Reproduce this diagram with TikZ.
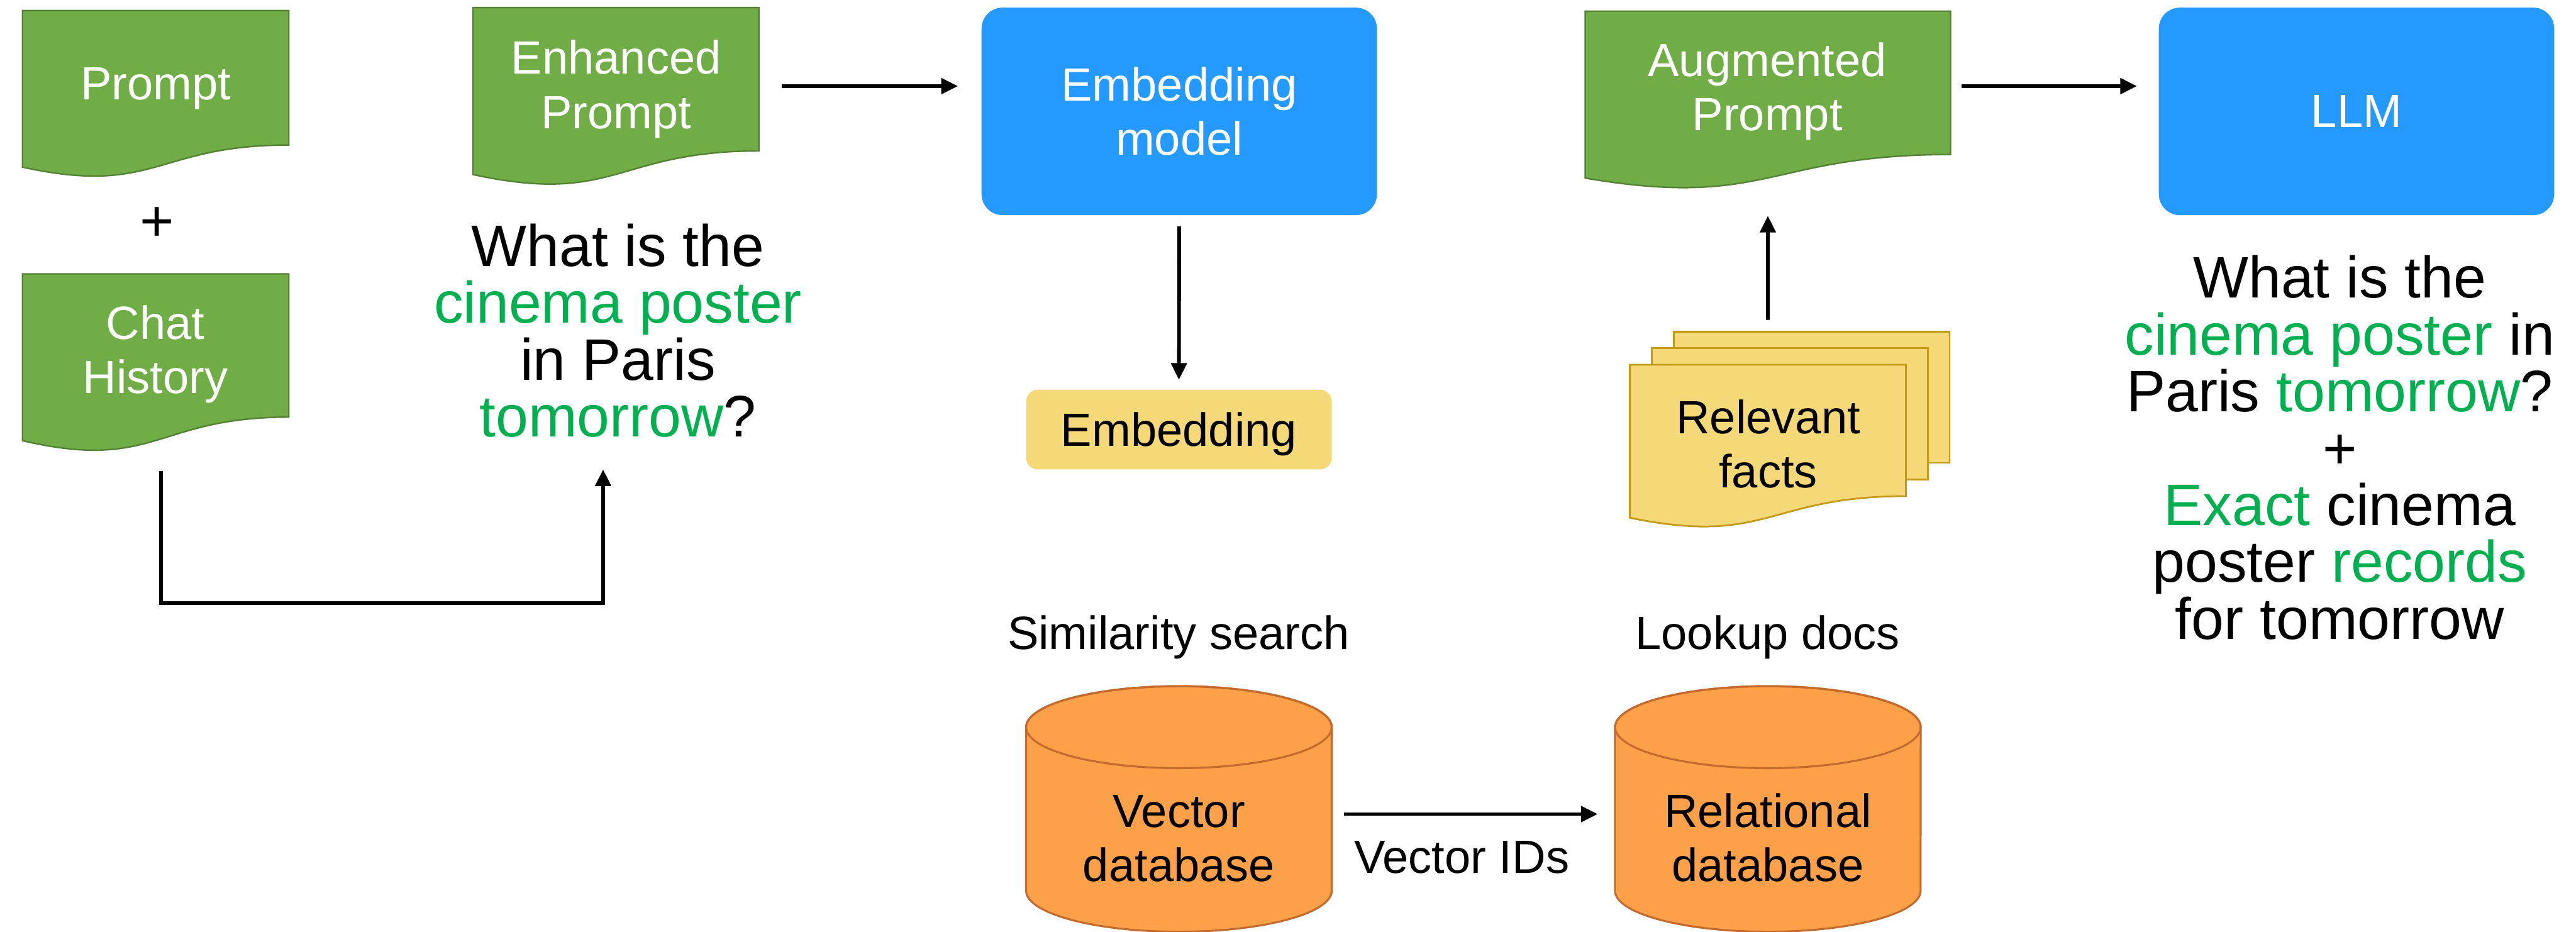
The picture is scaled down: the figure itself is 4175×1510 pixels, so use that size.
\documentclass[tikz,border=0pt]{standalone}
\usepackage{fontspec}
\setmainfont{Liberation Sans}
\usetikzlibrary{arrows.meta,calc}

\definecolor{docgreen}{RGB}{112,173,71}
\definecolor{docedge}{RGB}{84,130,53}
\definecolor{modelblue}{RGB}{36,153,255}
\definecolor{noteyellow}{RGB}{245,217,120}
\definecolor{noteedge}{RGB}{196,154,20}
\definecolor{dborange}{RGB}{252,160,74}
\definecolor{dbedge}{RGB}{196,106,44}
\definecolor{kwgreen}{RGB}{0,176,80}

\newcommand\kwd[1]{\textcolor{kwgreen}{#1}}

% flowchart "document" page: straight top part given by a region node,
% wavy bottom edge below it
\newcommand\docpath[2]{%
  \path[#2] (#1.north west) -- (#1.north east) -- (#1.south east)
    .. controls (#1.south) and ($(#1.south)!-0.3809!(#1.north)$)
    .. ($(#1.south west)!-0.1645!(#1.north west)$) -- cycle;}

% database can filling a region node
\newcommand\dbcan[1]{%
  \path[canbody] ($(#1.north west)+(0,66.4)$) -- ($(#1.south west)+(0,-66.4)$)
    arc[start angle=180,end angle=360,x radius=2.475cm,y radius=0.664cm]
    -- ($(#1.north east)+(0,66.4)$)
    arc[start angle=0,end angle=180,x radius=2.475cm,y radius=0.664cm] -- cycle;
  \draw[canedge] ($(#1.north)+(0,66.4)$) ellipse[x radius=2.475cm,y radius=0.664cm];}

\begin{document}
\begin{tikzpicture}[x=0.01cm,y=-0.01cm,
  region/.style={rectangle,inner sep=0pt,outer sep=0pt,draw=none},
  lbl/.style={inner sep=0pt,anchor=base,align=center,font=\fontsize{21.5}{25}\selectfont},
  onshape/.style={lbl,text=white},
  big/.style={inner sep=0pt,anchor=base,align=center,font=\fontsize{27}{26.2}\selectfont},
  docfill/.style={fill=docgreen,draw=docedge,line width=0.7pt},
  notefill/.style={fill=noteyellow,draw=noteedge,line width=0.8pt},
  notepage/.style={rectangle,notefill,minimum width=4.471cm,minimum height=2.128cm,inner sep=0pt},
  modelbox/.style={rectangle,fill=modelblue,rounded corners=0.34cm,
    minimum width=6.404cm,minimum height=3.361cm,inner sep=0pt,
    text=white,align=center,font=\fontsize{21.5}{25}\selectfont},
  chipbox/.style={rectangle,fill=noteyellow,rounded corners=0.19cm,
    minimum width=4.95cm,minimum height=1.291cm,inner sep=0pt,
    text height=0.54cm,text depth=0pt,
    font=\fontsize{21.5}{25}\selectfont},
  canbody/.style={fill=dborange,draw=dbedge,line width=0.9pt},
  canedge/.style={draw=dbedge,line width=0.9pt},
  arr/.style={-{Triangle[length=0.27cm,width=0.25cm]},line width=1.7pt},
]
\useasboundingbox (0,0) rectangle (4175,1510);
\fill[white] (0,0) rectangle (4175,1510);

% ---- regions of the document pages and database cans
\node[region,minimum width=4.314cm,minimum height=2.177cm] (prompt) at (252.3,126.15) {};
\node[region,minimum width=4.314cm,minimum height=2.32cm]  (chat)   at (252.3,560) {};
\node[region,minimum width=4.632cm,minimum height=2.321cm] (enh)    at (998.2,128.55) {};
\node[region,minimum width=5.916cm,minimum height=2.321cm] (aug)    at (2865.2,134.35) {};
\node[region,minimum width=4.95cm,minimum height=3.977cm]  (vec)    at (1910.7,1311.15) {};
\node[region,minimum width=4.952cm,minimum height=3.977cm] (rel)    at (2865.2,1311.15) {};

% ---- green prompt pages
\docpath{prompt}{docfill}
\docpath{chat}{docfill}
\docpath{enh}{docfill}
\docpath{aug}{docfill}

% ---- stack of fact pages
\node[notepage] (factsback) at (2936.15,643.8) {};
\node[notepage] (factsmid)  at (2900.65,670.75) {};
\node[region,minimum width=4.471cm,minimum height=2.128cm] (facts) at (2865.15,697.7) {};
\docpath{facts}{notefill}

% ---- databases
\dbcan{vec}
\dbcan{rel}

% ---- model boxes
\node[modelbox] (embm) at (1911.2,180.55) {Embedding\\model};
\node[modelbox] (llm)  at (3819.2,180.55) {LLM};
\node[chipbox]  (emb)  at (1910.7,696.25) {Embedding};

% ---- labels (a multi-line label sits on the baseline of its last line)
\node[onshape] (promptlbl) at (252.8,161.8) {Prompt};
\node[onshape] (chatlbl)   at (252,638) {Chat\\History};
\node[onshape] (enhlbl)    at (998.7,208) {Enhanced\\Prompt};
\node[onshape] (auglbl)    at (2864.3,212) {Augmented\\Prompt};
\node[lbl] (factslbl) at (2865.8,790.5) {Relevant\\facts};
\node[lbl] (veclbl)   at (1910.7,1429) {Vector\\database};
\node[lbl] (rellbl)   at (2865.2,1429) {Relational\\database};
\node[lbl] (simlbl)   at (1910.2,1052.6) {Similarity search};
\node[lbl] (looklbl)  at (2865,1052.6) {Lookup docs};
\node[lbl] (idslbl)   at (2369,1415.6) {Vector IDs};

\node[big,anchor=center] (plus) at (255,364) {+};
\node[big] (question) at (1001.5,707.8)
  {What is the\\\kwd{cinema poster}\\in Paris\\\kwd{tomorrow}?};
\node[big] (augtext) at (3792,1035.8)
  {What is the\\\kwd{cinema poster} in\\Paris \kwd{tomorrow}?\\+\\
   \kwd{Exact} cinema\\poster \kwd{records}\\for tomorrow};

% ---- connectors
\coordinate (loopfrom) at (261,763.7);
\coordinate (loopto)   at (977.5,760.8);
\draw[arr] (loopfrom) -- ++(0,213.8) -| (loopto);

\draw[arr,shorten <=0.375cm,shorten >=0.376cm]
  ([yshift=-0.1105cm]enh.east) -- ([yshift=-0.1105cm]enh.east -| embm.west);
\draw[arr,shorten <=0.174cm,shorten >=0.154cm] (embm.south) -- (emb.north);
\draw[arr,shorten <=0.202cm,shorten >=0.28cm]
  ([yshift=-0.083cm]vec.east) -- ([yshift=-0.083cm]vec.east -| rel.west);
\draw[arr,shorten <=0.174cm,shorten >=0.992cm] (factsback.north -| facts.north) -- (aug.south);
\draw[arr,shorten <=0.182cm,shorten >=0.347cm]
  ([yshift=-0.0525cm]aug.east) -- ([yshift=-0.0525cm]aug.east -| llm.west);
\end{tikzpicture}
\end{document}
